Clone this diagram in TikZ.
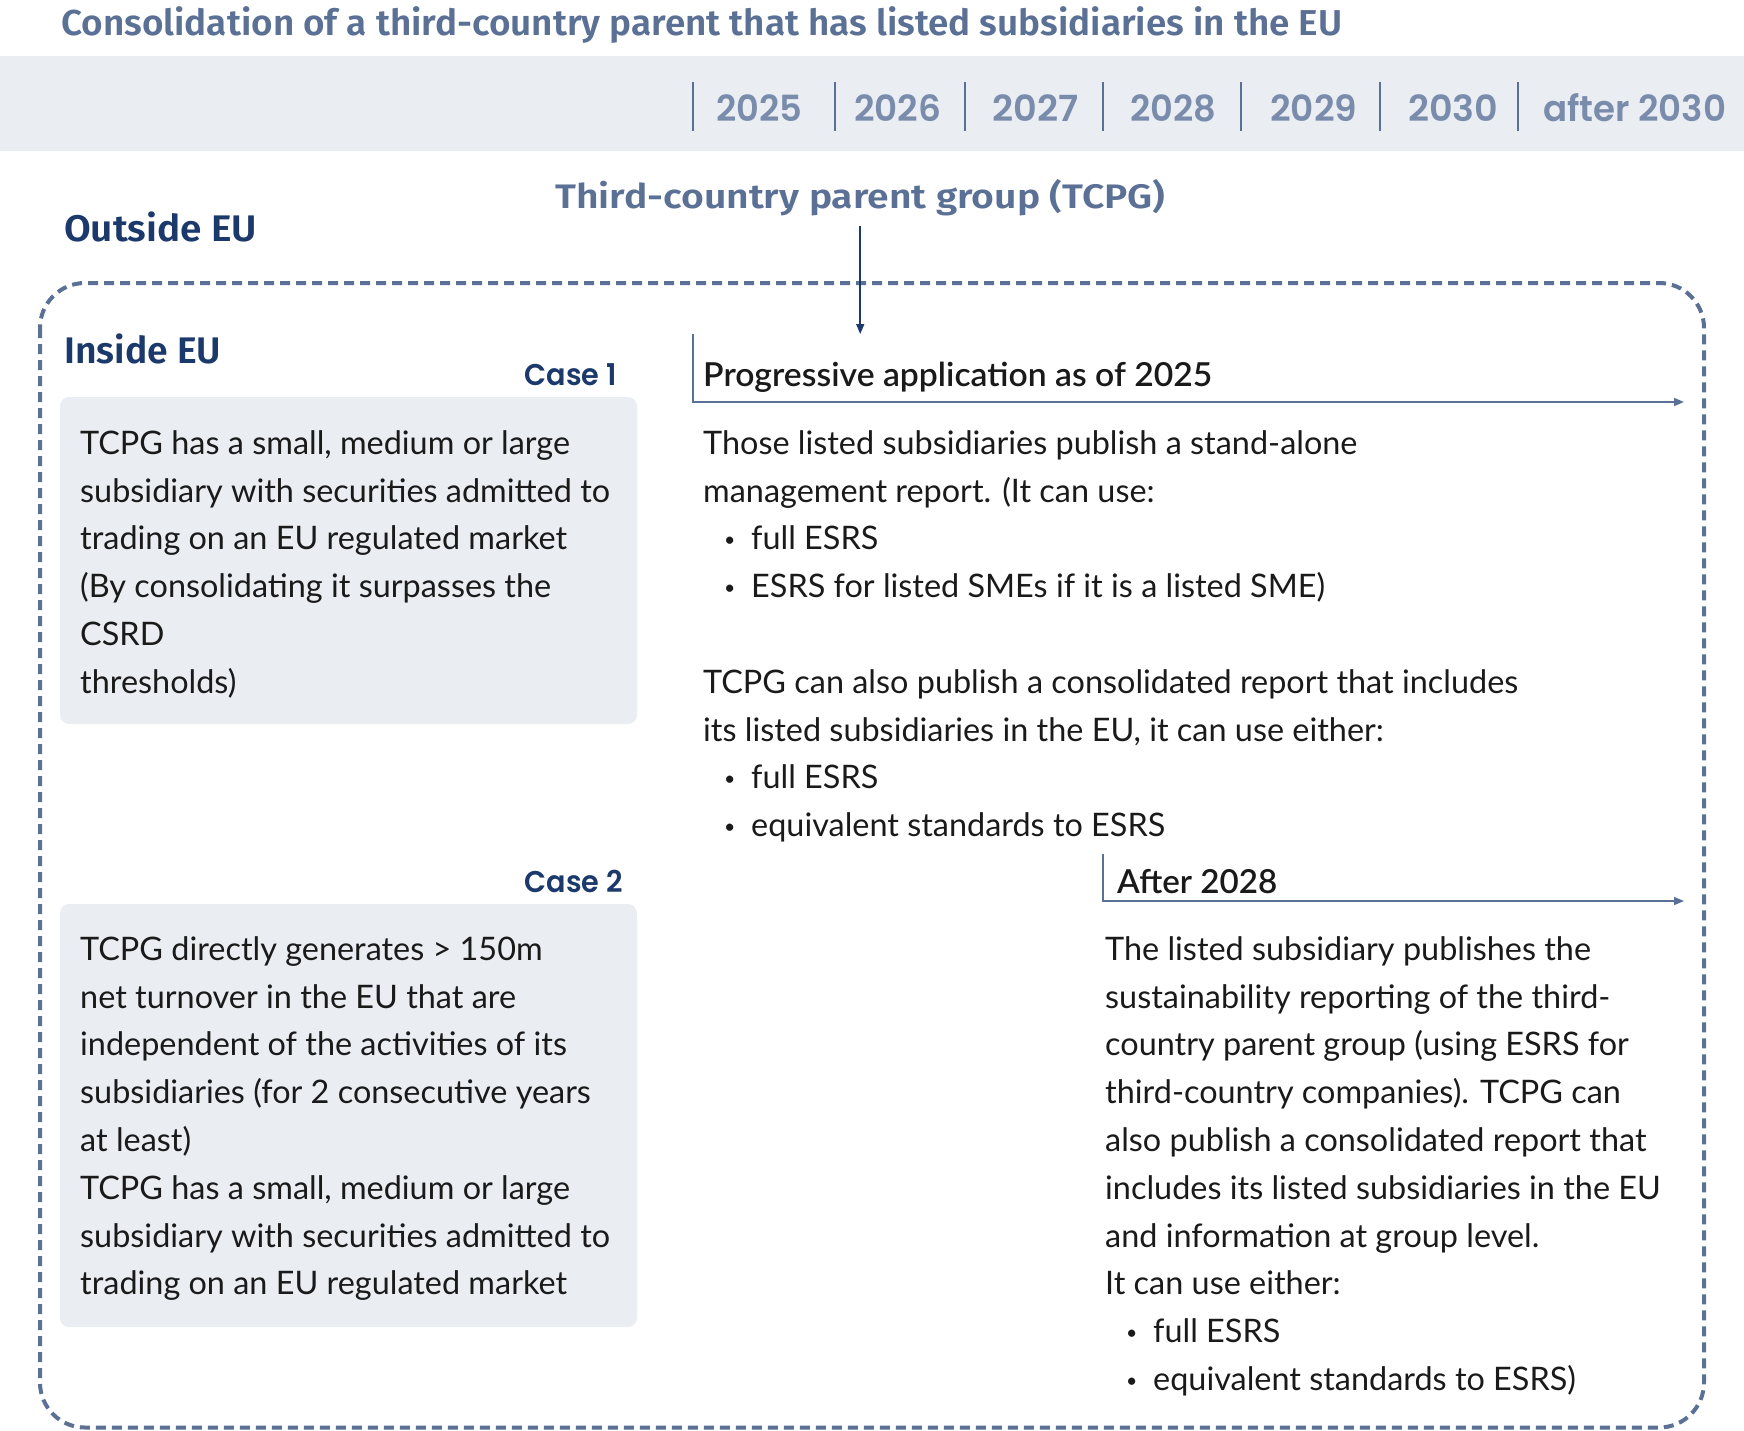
\documentclass[tikz,border=0pt]{standalone}
\usepackage{fontspec}
\usepackage{graphicx}
\usetikzlibrary{arrows.meta}
\setmainfont{Lato}
\IfFontExistsTF{Poppins SemiBold}
  {\newfontfamily\casef{Poppins SemiBold}}
  {\newfontfamily\casefb{Poppins}\newcommand\casef{\casefb\bfseries}}
\IfFontExistsTF{Fira Sans SemiBold}
  {\newfontfamily\headf{Fira Sans SemiBold}}
  {\newfontfamily\headfb{Fira Sans}\newcommand\headf{\headfb\bfseries}}
\IfFontExistsTF{Lato Semibold}
  {\newfontfamily\subf{Lato Semibold}}
  {\newcommand\subf{\bfseries}}
\definecolor{slate}{HTML}{5B7095}
\definecolor{yearc}{HTML}{7A8CAB}
\definecolor{navy}{HTML}{1B3A6B}
\definecolor{bandc}{HTML}{EAEDF2}
\definecolor{ink}{HTML}{1A1A1A}
\newcommand\fitw[2]{\resizebox{#1}{\height}{#2}}
\newcommand\itm{\makebox[48pt][l]{\hspace*{21pt}\raisebox{3pt}{\scalebox{0.6}{•}}}}
\newcommand\fs{\rule{0pt}{30pt}}
\tikzset{
  body/.style={anchor=north west, inner sep=0pt, align=left, text=ink,
    font=\fontsize{32.4}{47.8}\selectfont},
  yearlbl/.style={anchor=base west, inner sep=0pt, text=yearc,
    font=\casef\fontsize{36}{36}\selectfont},
  yearsep/.style={draw=slate, line width=2pt},
  caselbl/.style={anchor=base east, inner sep=0pt, text=navy,
    font=\casef\fontsize{30}{30}\selectfont},
  zonelbl/.style={anchor=base west, inner sep=0pt, text=navy,
    font=\headf\fontsize{37}{37}\selectfont},
  phaselbl/.style={anchor=base west, inner sep=0pt, text=ink,
    font=\subf\fontsize{33}{33}\selectfont},
  casebox/.style={fill=bandc, rounded corners=9pt},
  phasearrow/.style={draw=slate, line width=1.6pt,
    -{Triangle[length=10pt,width=8pt]}},
  parentarrow/.style={draw=navy, line width=1.6pt,
    -{Triangle[length=10pt,width=8pt]}},
  euframe/.style={draw=slate, line width=4pt, dash pattern=on 10pt off 6pt,
    rounded corners=45pt}
}
\begin{document}
\begin{tikzpicture}[x=1pt,y=-1pt]
\useasboundingbox (0,0) rectangle (1744,1431);
% title and year band
\node[anchor=base west, inner sep=0pt, text=slate,
  font=\headf\fontsize{36}{36}\selectfont] (title) at (61,36)
  {\fitw{1281pt}{Consolidation of a third-country parent that has listed subsidiaries in the EU}};
\fill[bandc] (0,56) rectangle (1744,151);
\foreach \x in {693,835,965,1103,1241,1380,1518}
  \draw[yearsep] (\x,82) -- (\x,131);
\node[yearlbl] (y2025) at (716,122) {\fitw{86pt}{2025}};
\node[yearlbl] (y2026) at (854,122) {\fitw{87pt}{2026}};
\node[yearlbl] (y2027) at (992,122) {\fitw{86pt}{2027}};
\node[yearlbl] (y2028) at (1130,122) {\fitw{86pt}{2028}};
\node[yearlbl] (y2029) at (1270,122) {\fitw{87pt}{2029}};
\node[yearlbl] (y2030) at (1408,122) {\fitw{90pt}{2030}};
\node[yearlbl] (yafter) at (1543,122) {\fitw{183pt}{after 2030}};
% parent group
\node[anchor=base west, inner sep=0pt, text=slate,
  font=\headf\fontsize{34}{34}\selectfont] (tcpg) at (555,208)
  {\fitw{610pt}{Third-country parent group (TCPG)}};
\node[zonelbl] (outside) at (64,242) {\fitw{193pt}{Outside EU}};
% EU frame
\path[euframe] (40,283) rectangle (1704,1427.5);
\node[zonelbl] (inside) at (64,363) {\fitw{157pt}{Inside EU}};
% cases
\node[caselbl] (case1) at (617,385) {\fitw{92pt}{Case 1}};
\path[casebox] (60,397) rectangle (637,724);
\node[body] (case1txt) at (80,424) {\fs TCPG has a small, medium or large\\
subsidiary with securities admitted to\\
trading on an EU regulated market\\
(By consolidating it surpasses the\\
CSRD\\
thresholds)};
\node[caselbl] (case2) at (623,892) {\fitw{98pt}{Case 2}};
\path[casebox] (60,904) rectangle (637,1327);
\node[body] (case2txt) at (80,930) {\fs TCPG directly generates > 150m\\
net turnover in the EU that are\\
independent of the activities of its\\
subsidiaries (for 2 consecutive years\\
at least)\\
TCPG has a small, medium or large\\
subsidiary with securities admitted to\\
trading on an EU regulated market};
% progressive application
\coordinate (tcpgEnd) at (861,334);
\draw[parentarrow, shorten <=10pt] (tcpg.south) -- (tcpg.south |- tcpgEnd);
\coordinate (p0) at (693,334);
\coordinate (p1) at (693,402);
\coordinate (p2) at (1684,402);
\draw[phasearrow] (p0) -- (p1) -- (p2);
\node[phaselbl] (prog) at (703,386) {\fitw{509pt}{Progressive application as of 2025}};
\node[body] (progtxt) at (703,424) {\fs Those listed subsidiaries publish a stand-alone\\
management report. (It can use:\\
\itm full ESRS\\
\itm ESRS for listed SMEs if it is a listed SME)\\[47.8pt]
TCPG can also publish a consolidated report that includes\\
its listed subsidiaries in the EU, it can use either:\\
\itm full ESRS\\
\itm equivalent standards to ESRS};
% after 2028
\coordinate (a0) at (1103,854);
\coordinate (a1) at (1103,901);
\coordinate (a2) at (1684,901);
\draw[phasearrow] (a0) -- (a1) -- (a2);
\node[phaselbl] (after) at (1117,893) {\fitw{160pt}{After 2028}};
\node[body] (aftertxt) at (1105,930) {\fs The listed subsidiary publishes the\\
sustainability reporting of the third-\\
country parent group (using ESRS for\\
third-country companies). TCPG can\\
also publish a consolidated report that\\
includes its listed subsidiaries in the EU\\
and information at group level.\\
It can use either:\\
\itm full ESRS\\
\itm equivalent standards to ESRS)};
\end{tikzpicture}
\end{document}
